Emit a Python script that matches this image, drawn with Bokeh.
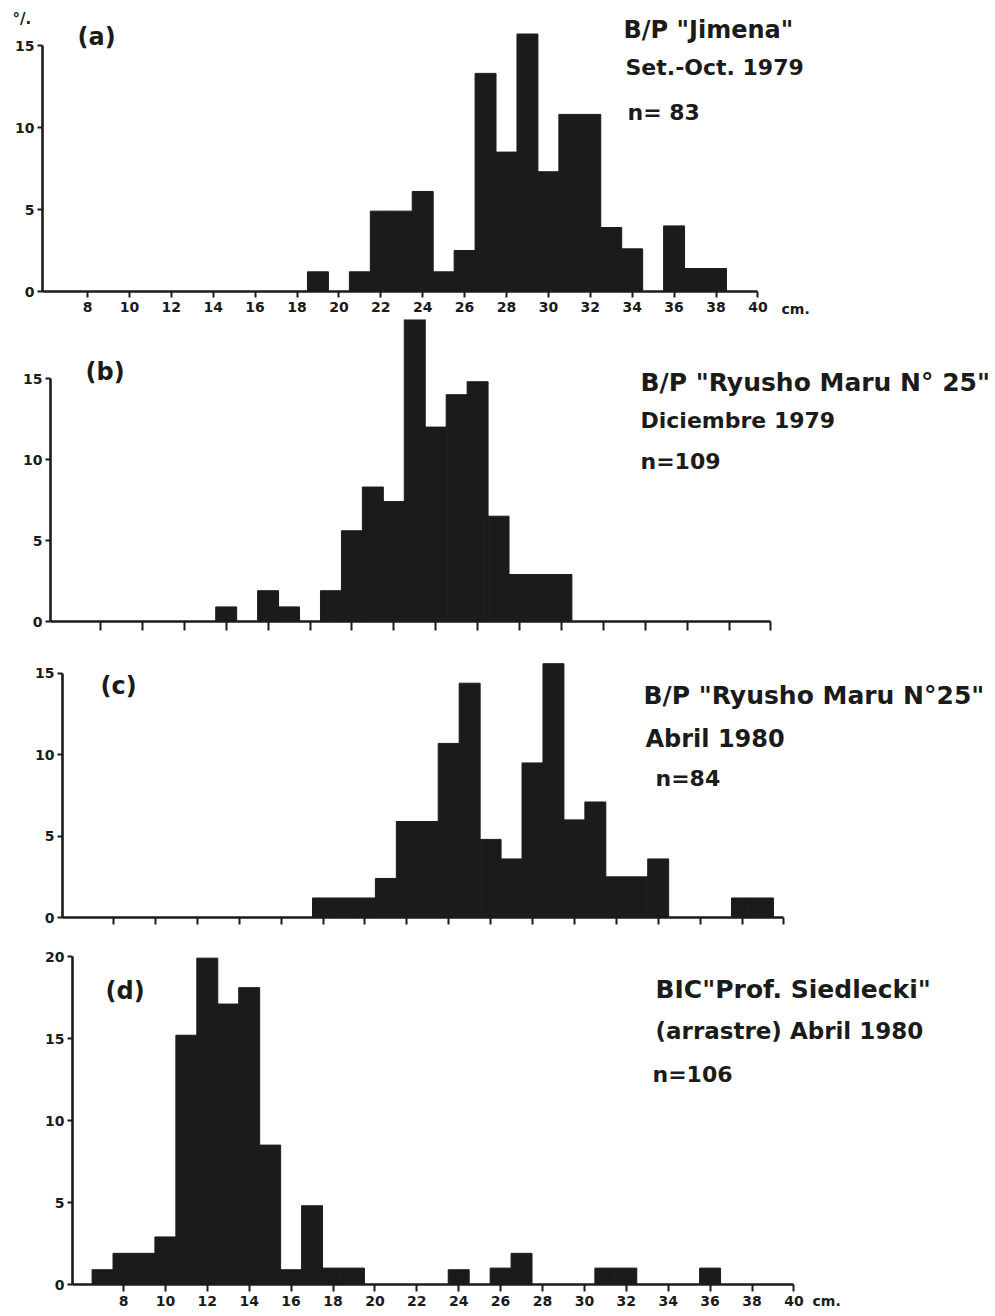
from bokeh.plotting import figure
from bokeh.models import Range1d, FixedTicker, Label
from bokeh.layouts import column
from bokeh.embed import file_html
from bokeh.resources import INLINE

# ---- data: length class (cm, class mark) and percentage ----
a_len = [19, 21, 22, 23, 24, 25, 26, 27, 28, 29, 30, 31, 32, 33, 34, 36, 37, 38]
a_pct = [1.2, 1.2, 4.9, 4.9, 6.1, 1.2, 2.5, 13.3, 8.5, 15.7, 7.3, 10.8, 10.8, 3.9, 2.6, 4.0, 1.4, 1.4]

b_len = [14, 16, 17, 19, 20, 21, 22, 23, 24, 25, 26, 27, 28, 29, 30]
b_pct = [0.9, 1.9, 0.9, 1.9, 5.6, 8.3, 7.4, 18.7, 12.0, 14.0, 14.8, 6.5, 2.9, 2.9, 2.9]

c_len = [18, 19, 20, 21, 22, 23, 24, 25, 26, 27, 28, 29, 30, 31, 32, 33, 34, 38, 39]
c_pct = [1.2, 1.2, 1.2, 2.4, 5.9, 5.9, 10.7, 14.4, 4.8, 3.6, 9.5, 15.6, 6.0, 7.1, 2.5, 2.5, 3.6, 1.2, 1.2]

d_len = [7, 8, 9, 10, 11, 12, 13, 14, 15, 16, 17, 18, 19, 24, 26, 27, 31, 32, 36]
d_pct = [0.9, 1.9, 1.9, 2.9, 15.2, 19.9, 17.1, 18.1, 8.5, 0.9, 4.8, 1.0, 1.0, 0.9, 1.0, 1.9, 1.0, 1.0, 1.0]

x_ticks = [8, 10, 12, 14, 16, 18, 20, 22, 24, 26, 28, 30, 32, 34, 36, 38, 40]
y_ticks_15 = [0, 5, 10, 15]
y_ticks_20 = [0, 5, 10, 15, 20]

panel_tags = ["(a)", "(b)", "(c)", "(d)"]
a_info = ['B/P "Jimena"', "Set.-Oct. 1979", "n= 83"]
b_info = ['B/P "Ryusho Maru N\u00b0 25"', "Diciembre 1979", "n=109"]
c_info = ['B/P "Ryusho Maru N\u00b025"', "Abril 1980", "n=84"]
d_info = ['BIC"Prof. Siedlecki"', "(arrastre) Abril 1980", "n=106"]

FONT = "DejaVu Sans"
INK = "#1b1b1b"
W = 995
SX = 20.95  # px per cm


class Panel:
    def __init__(self, lengths, pcts, top, height, x8, y0, sy, axis_x,
                 y_bound, y_ticks, show_x_labels, tick_out):
        self.x8, self.y0, self.sy, self.top = x8, y0, sy, top
        xr = Range1d(8 - x8 / SX, 8 + (W - x8) / SX)
        yr = Range1d((y0 - (top + height)) / sy, (y0 - top) / sy)
        p = figure(width=W, height=height, output_backend="svg",
                   toolbar_location=None, x_range=xr, y_range=yr,
                   min_border_left=0, min_border_right=0,
                   min_border_top=0, min_border_bottom=0)
        p.outline_line_color = None
        p.xgrid.visible = False
        p.ygrid.visible = False
        p.background_fill_color = "white"
        p.border_fill_color = "white"
        left = [v - 0.5 for v in lengths]
        right = [v + 0.5 for v in lengths]
        p.quad(left=left, right=right, bottom=0, top=pcts,
               fill_color=INK, line_color=INK, line_width=1)
        for ax in (p.xaxis[0], p.yaxis[0]):
            ax.axis_line_color = INK
            ax.axis_line_width = 2.6
            ax.major_tick_line_color = INK
            ax.major_tick_line_width = 2
            ax.minor_tick_line_color = None
            ax.major_tick_in = 0
            ax.major_label_text_font = FONT
            ax.major_label_text_color = INK
            ax.major_label_text_font_style = "bold"
        p.xaxis.fixed_location = 0
        p.yaxis.fixed_location = axis_x
        p.xaxis.ticker = FixedTicker(ticks=x_ticks)
        p.xaxis.bounds = (axis_x, 40)
        p.xaxis.major_tick_out = tick_out
        if show_x_labels:
            p.xaxis.major_label_text_font_size = "14px"
            p.xaxis.major_label_standoff = 4
        else:
            p.xaxis.major_label_text_font_size = "0px"
            p.xaxis.major_label_standoff = 0
            p.xaxis.major_label_overrides = {t: "" for t in x_ticks}
        p.yaxis.ticker = FixedTicker(ticks=y_ticks)
        p.yaxis.bounds = (0, y_bound)
        p.yaxis.major_tick_out = 5
        p.yaxis.major_label_standoff = 3
        p.yaxis.major_label_text_font_size = "14px"
        self.p = p

    def text(self, px, py, txt, size="23px", bold=True):
        self.p.add_layout(Label(
            x=8 + (px - self.x8) / SX, y=(self.y0 - py) / self.sy,
            text=txt, text_font=FONT, text_font_size=size, text_color=INK,
            text_baseline="middle", text_align="left",
            text_font_style="bold" if bold else "normal"))


A = Panel(a_len, a_pct, 0, 319, 87, 291, 16.4, 5.85, 15, y_ticks_15, True, 6)
A.text(12, 18, "\u00b0/.", "15px")
A.text(77, 36, panel_tags[0], "24px")
for (px, py), t, s in zip([(623, 29), (625, 67), (627, 112)], a_info,
                          ["24px", "22px", "22px"]):
    A.text(px, py, t, s)
A.text(781, 308, "cm.", "14px")

B = Panel(b_len, b_pct, 319, 321, 100, 621, 16.2, 5.61, 15, y_ticks_15, False, 9)
B.text(85, 371, panel_tags[1], "24px")
for (px, py), t, s in zip([(640, 382), (640, 420), (640, 461)], b_info,
                          ["25px", "22px", "22px"]):
    B.text(px, py, t, s)

C = Panel(c_len, c_pct, 640, 295, 113, 917, 16.27, 5.57, 15, y_ticks_15, False, 7)
C.text(100, 685, panel_tags[2], "24px")
for (px, py), t, s in zip([(643, 695), (645, 738), (655, 778)], c_info,
                          ["25px", "24px", "22px"]):
    C.text(px, py, t, s)

D = Panel(d_len, d_pct, 935, 379, 123, 1284, 16.4, 5.57, 20, y_ticks_20, True, 7)
D.text(105, 990, panel_tags[3], "24px")
for (px, py), t, s in zip([(655, 989), (655, 1030), (652, 1074)], d_info,
                          ["25px", "23px", "22px"]):
    D.text(px, py, t, s)
D.text(812, 1300, "cm.", "14px")

layout = column(A.p, B.p, C.p, D.p, spacing=0)
open("out.html", "w").write(file_html(layout, INLINE))
